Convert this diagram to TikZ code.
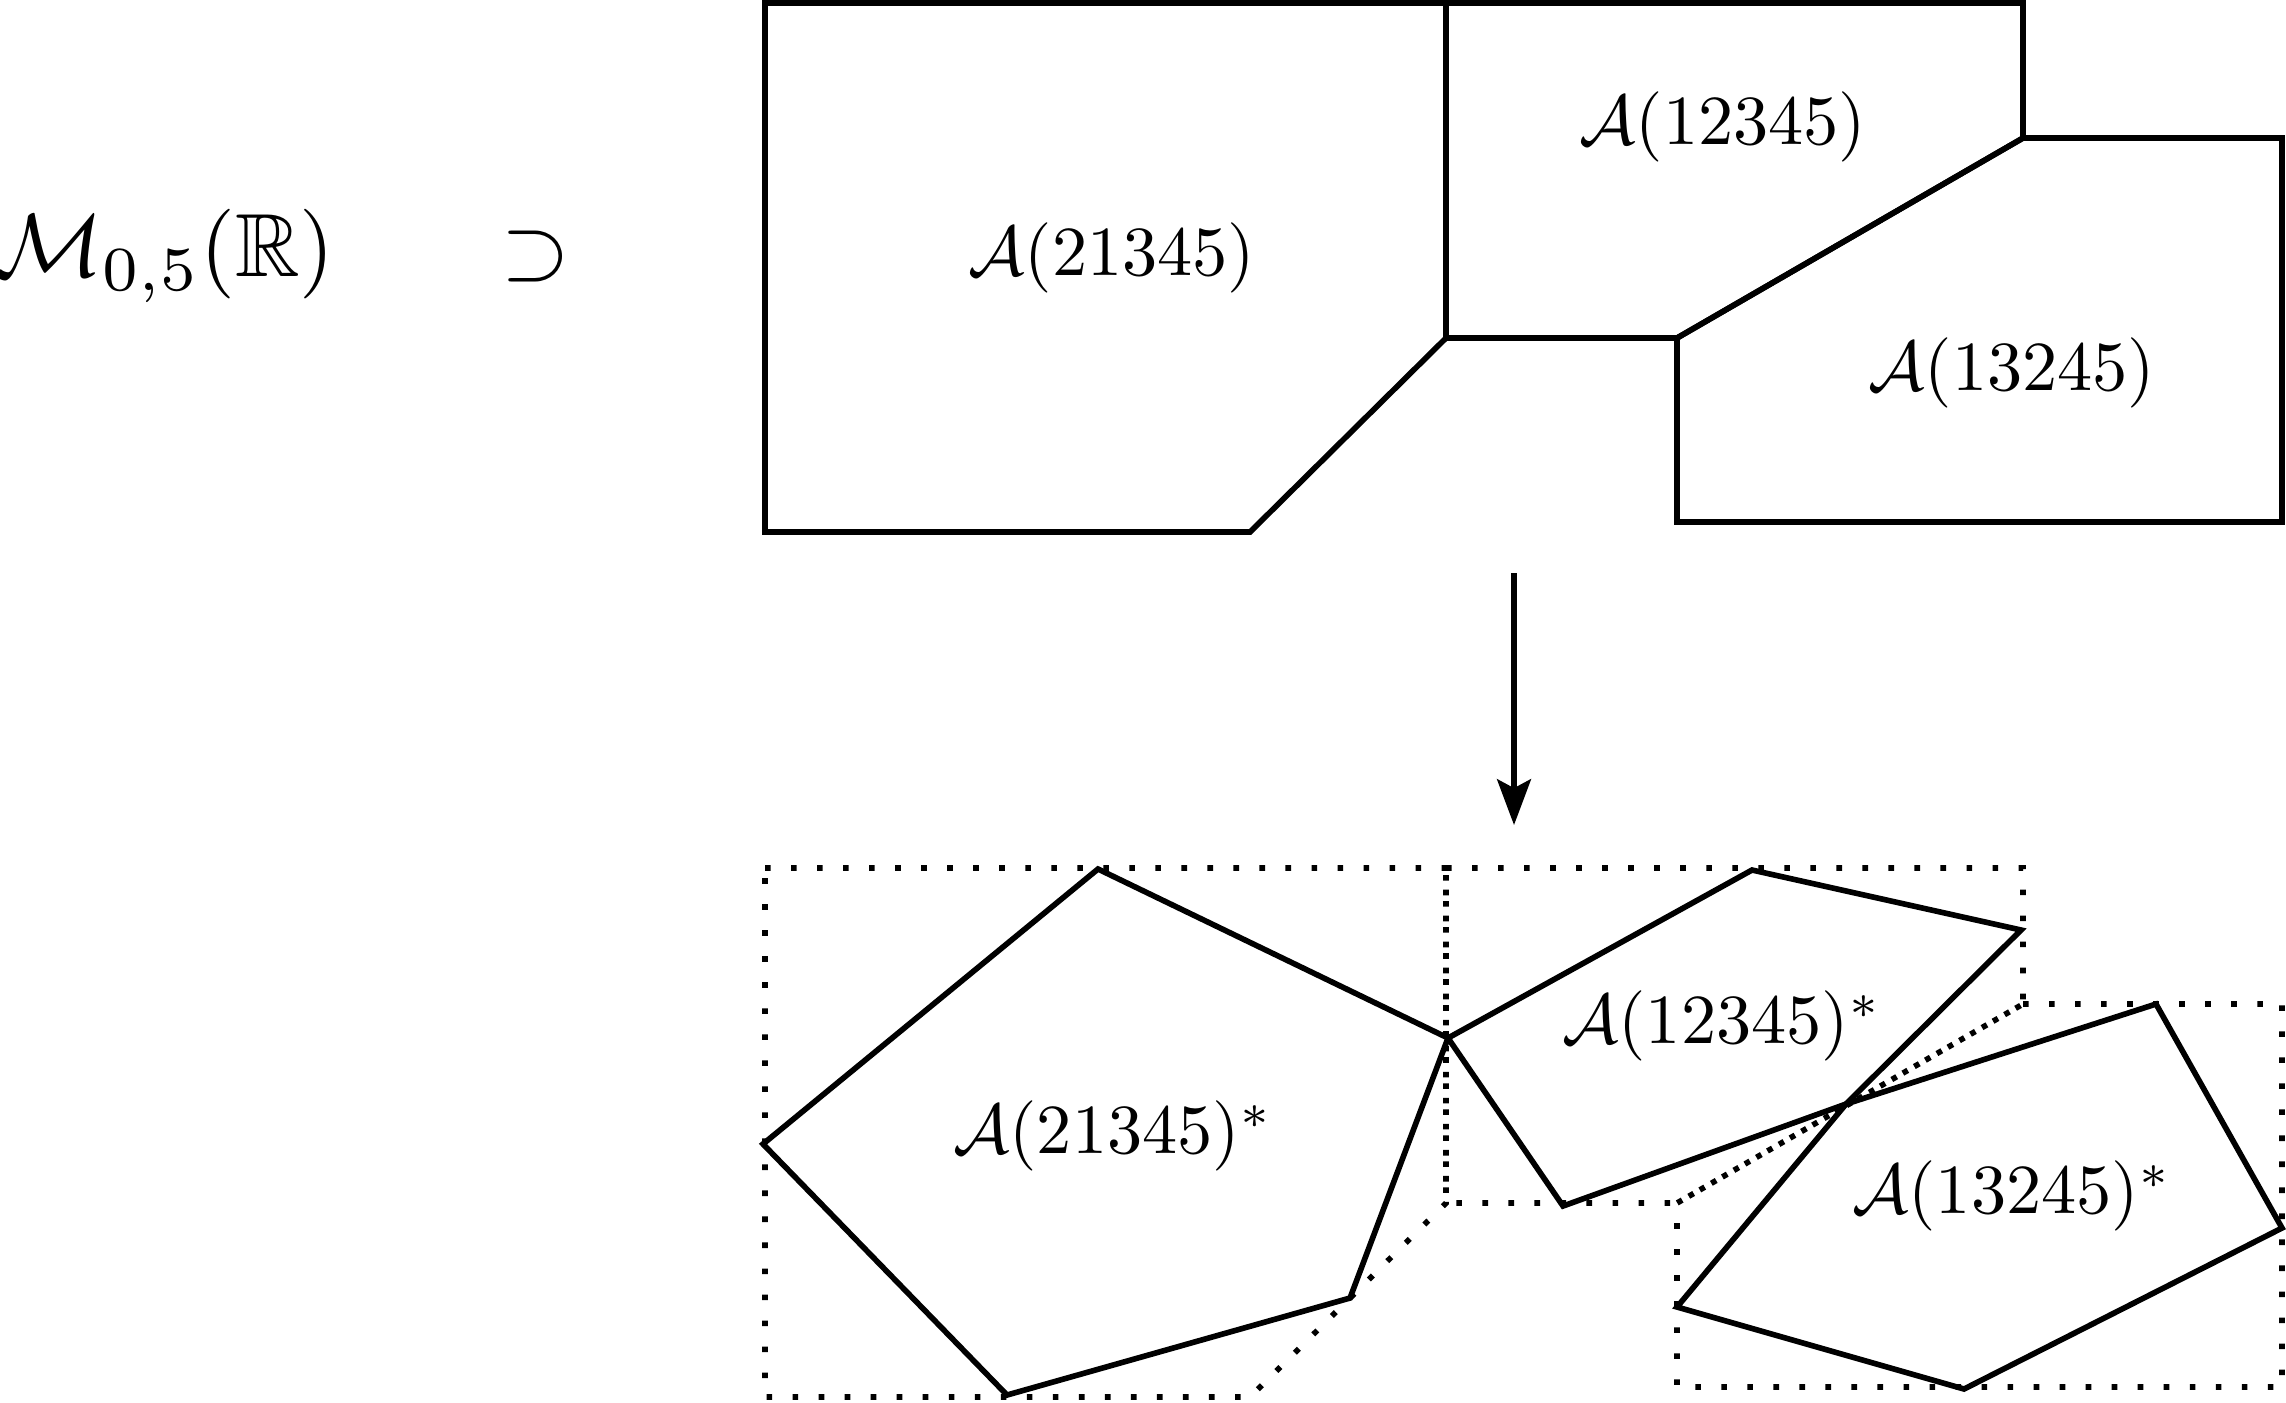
\documentclass[tikz,border=0pt]{standalone}
\usepackage{amssymb}
\usetikzlibrary{arrows.meta}
\newcommand{\labtxt}[1]{\scalebox{2}{$#1$}}
\newcommand{\bigtxt}[1]{\scalebox{2.55}{$#1$}}
\begin{document}
\begin{tikzpicture}[x=0.01cm,y=-0.01cm,
  edge/.style={line width=1.6pt},
  dots/.style={line width=1.6pt, dash pattern=on 1.6pt off 5.8pt},
  lab/.style={inner sep=0pt},
  biglab/.style={inner sep=0pt}]
\useasboundingbox (0,0) rectangle (2286,1402);

% left text
\node[biglab] (mod) at (165,256) {\bigtxt{\mathcal{M}_{0,5}(\mathbb{R})}};
\node[biglab] (sup) at (536,257) {\scalebox{2.5}{$\supset$}};

% top cells
\draw[edge] (765,3) -- (1446,3) -- (1446,338) -- (1250,532) -- (765,532) -- cycle;
\draw[edge] (1446,3) -- (2023,3) -- (2023,138) -- (1677,338) -- (1446,338) -- cycle;
\draw[edge] (2023,138) -- (2282,138) -- (2282,522) -- (1677,522) -- (1677,338) -- cycle;
\node[lab] (a1) at (1112,258) {\labtxt{\mathcal{A}(21345)}};
\node[lab] (a2) at (1723,127) {\labtxt{\mathcal{A}(12345)}};
\node[lab] (a3) at (2012,373) {\labtxt{\mathcal{A}(13245)}};

% arrow
\coordinate (atop) at (1514,573);
\coordinate (abot) at (1514,825);
\draw[edge,-{Stealth[length=13pt,width=9.6pt,inset=2.5pt]}] (atop) -- (abot);

% dotted copies
\draw[dots] (765,868) -- (1446,868) -- (1446,1203) -- (1250,1397) -- (765,1397) -- cycle;
\draw[dots] (1446,868) -- (2023,868) -- (2023,1004) -- (1677,1203) -- (1446,1203) -- cycle;
\draw[dots] (2023,1004) -- (2282,1004) -- (2282,1387) -- (1677,1387) -- (1677,1203) -- cycle;

% pentagons
\coordinate (s1) at (1448,1038);
\coordinate (s2) at (1846,1104);
\draw[edge] (763,1144) -- (1098,869) -- (s1) -- (1350,1298) -- (1007,1395) -- cycle;
\draw[edge] (s1) -- (1752,870) -- (2021,930) -- (s2) -- (1563,1206) -- cycle;
\draw[edge] (s2) -- (2156,1004) -- (2282,1228) -- (1964,1389) -- (1677,1307) -- cycle;
\node[lab] (b1) at (1113,1136) {\labtxt{\mathcal{A}(21345)^*}};
\node[lab] (b2) at (1722,1026) {\labtxt{\mathcal{A}(12345)^*}};
\node[lab] (b3) at (2012,1196) {\labtxt{\mathcal{A}(13245)^*}};
\end{tikzpicture}
\end{document}
